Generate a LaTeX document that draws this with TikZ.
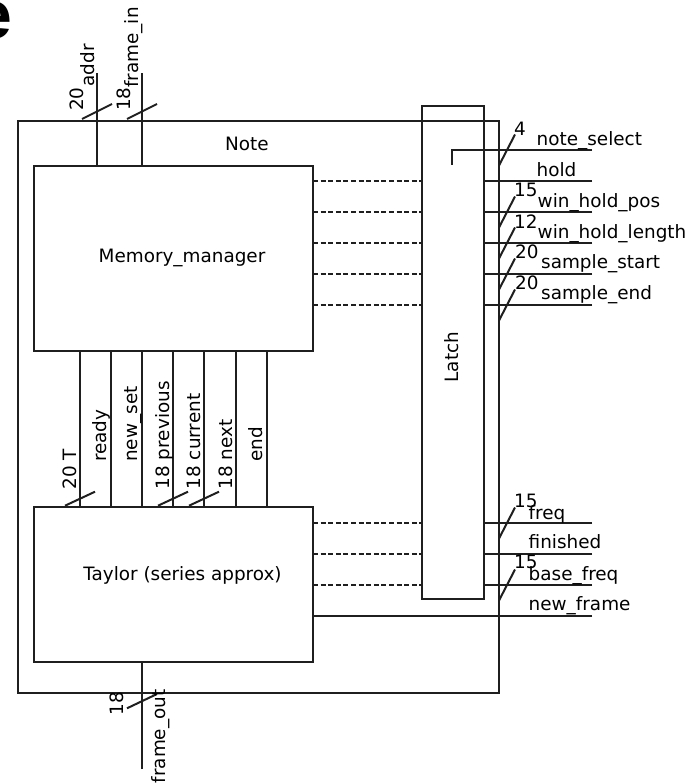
\documentclass[tikz,border=0pt]{standalone}
\usepackage{fontspec}
\setmainfont{DejaVu Sans}
\newfontfamily\titlefont{Liberation Sans}
\begin{document}
\begin{tikzpicture}[x=1pt,y=-1pt,
  wire/.style={line width=2pt, draw=black!88},
  dwire/.style={line width=2pt, draw=black!88, dash pattern=on 5pt off 2.6pt},
  blk/.style={draw=black!88, line width=2pt, inner sep=0pt, outer sep=0pt, rectangle},
  lbl/.style={inner sep=0pt, font=\fontsize{18.4}{22}\selectfont},
  vlbl/.style={lbl, rotate=90, anchor=base west},
  hlbl/.style={lbl, anchor=base west}]
\useasboundingbox (0,0) rectangle (694,784);

% title fragment
\node[anchor=base west, inner sep=0pt, font={\titlefont\bfseries\fontsize{68}{70}\selectfont}] (ttl) at (-26,39) {e};

% blocks
\node[blk, minimum width=481pt, minimum height=572pt] (note) at (258.5,407) {};
\node[blk, minimum width=279pt, minimum height=185pt] (mm) at (173.5,258.5) {};
\node[blk, minimum width=279pt, minimum height=155pt] (tay) at (173.5,584.5) {};
\node[blk, minimum width=62pt, minimum height=493pt] (lat) at (453,352.5) {};

\node[hlbl] (notet) at (225,150) {Note};
\node[lbl, anchor=base] (mmt) at (182,262) {Memory\_manager};
\node[lbl, anchor=base] (tayt) at (182.5,580) {Taylor (series approx)};
\node[lbl, rotate=90] (latt) at (452,357) {Latch};

% top inputs
\coordinate (addrT) at (97,73);
\coordinate (finT) at (142,73);
\draw[wire] (addrT) -- (addrT |- mm.north);
\draw[wire] (finT) -- (finT |- mm.north);
\draw[wire] (addrT |- note.north) ++(-15,-2) -- ++(30,-15);
\draw[wire] (finT |- note.north) ++(-15,-2) -- ++(30,-15);
\node[vlbl] (l20a) at (83.5,111) {20};
\node[vlbl] (laddr) at (94.5,86.5) {addr};
\node[vlbl] (l18f) at (130.5,111) {18};
\node[vlbl] (lfin) at (138,88) {frame\_in};

% vertical signals between Memory_manager and Taylor
\foreach \x/\n in {80/v1,111/v2,142/v3,173/v4,204/v5,236/v6,267/v7}{
  \coordinate (\n) at (\x,351);
  \draw[wire] (\n) -- (\n |- tay.north);
}
\foreach \n in {v1,v4,v5}{
  \draw[wire] (\n |- tay.north) ++(-15,-1.3) -- ++(30,-14);
}
\node[vlbl] (lT) at (76.5,489.5) {20 T};
\node[vlbl] (lready) at (106.5,462) {ready};
\node[vlbl] (lnewset) at (137.5,462) {new\_set};
\node[vlbl] (lprev) at (169.5,489.5) {18 previous};
\node[vlbl] (lcur) at (200.5,489.5) {18 current};
\node[vlbl] (lnext) at (232.5,489.5) {18 next};
\node[vlbl] (lend) at (262.5,462) {end};

% right side signals
\coordinate (s1) at (592,150);
\coordinate (selin) at (452,165);
\draw[wire] (s1) -| (selin);
\foreach \y/\n in {181/s2,212/s3,243/s4,274/s5,305/s6}{
  \coordinate (\n) at (592,\y);
  \draw[wire] (\n) -- (\n -| lat.east);
  \draw[dwire] (\n -| mm.east) -- (\n -| lat.west);
}
\foreach \y/\n in {523/s7,554/s8,585/s9}{
  \coordinate (\n) at (592,\y);
  \draw[wire] (\n) -- (\n -| lat.east);
  \draw[dwire] (\n -| tay.east) -- (\n -| lat.west);
}
\coordinate (s10) at (592,616);
\draw[wire] (s10) -- (s10 -| tay.east);
\foreach \n in {s1,s3,s4,s5,s6,s7,s9}{
  \draw[wire] (\n -| note.east) ++(0,15.5) -- ++(16,-31);
}
\node[hlbl] (n4) at (514,135) {4};
\node[hlbl] (nsel) at (536.5,145.5) {note\_select};
\node[hlbl] (nhold) at (536.5,176) {hold};
\node[hlbl] (n15a) at (514,196.7) {15};
\node[hlbl] (nwhp) at (537.5,207.5) {win\_hold\_pos};
\node[hlbl] (n12) at (514,228) {12};
\node[hlbl] (nwhl) at (537.5,238.5) {win\_hold\_length};
\node[hlbl] (n20a) at (515,258.3) {20};
\node[hlbl] (nss) at (541,268.5) {sample\_start};
\node[hlbl] (n20b) at (515,289.3) {20};
\node[hlbl] (nse) at (541,299.5) {sample\_end};
\node[hlbl] (n15b) at (514,507) {15};
\node[hlbl] (nfreq) at (528.5,519) {freq};
\node[hlbl] (nfin) at (528.5,548.5) {finished};
\node[hlbl] (n15c) at (514,568.5) {15};
\node[hlbl] (nbf) at (528.5,580) {base\_freq};
\node[hlbl] (nnf) at (528.5,610.7) {new\_frame};

% bottom output
\coordinate (foB) at (142,769);
\draw[wire] (foB) -- (foB |- tay.south);
\draw[wire] (foB |- note.south) ++(-15,15.3) -- ++(30,-14.3);
\node[vlbl] (l18o) at (123.3,715.5) {18};
\node[vlbl] (lfo) at (165,783.5) {frame\_out};
\end{tikzpicture}
\end{document}
